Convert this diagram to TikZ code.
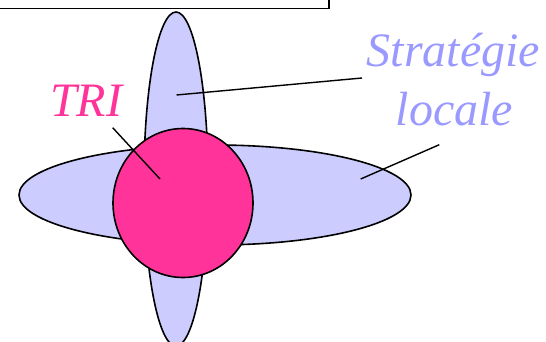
\documentclass[tikz,border=0pt]{standalone}
\usepackage{fontspec}
\setmainfont{Liberation Serif}
\newfontfamily\labelfont{Liberation Serif Italic}
\usetikzlibrary{shapes.geometric}
\definecolor{lav}{HTML}{CCCCFF}
\definecolor{lavtext}{HTML}{9999FF}
\definecolor{pinkc}{HTML}{FF3399}
\tikzset{
  blob/.style={ellipse, draw=black, line width=1.6pt, fill=lav, inner sep=0pt},
  core/.style={ellipse, draw=black, line width=1.6pt, fill=pinkc, inner sep=0pt},
  bigtext/.style={font=\labelfont\fontsize{48}{58}\selectfont, inner sep=0pt, anchor=base},
  leader/.style={draw=black, line width=1.4pt}
}
\begin{document}
\begin{tikzpicture}[x=1pt,y=-1pt]
\useasboundingbox (0,0) rectangle (546,342);
\clip (0,0) rectangle (546,342);
\node[draw=black, line width=1.6pt, minimum width=360pt, minimum height=30pt, inner sep=0pt, anchor=south east] (box) at (330,9.3) {};
\node[blob, minimum width=64pt, minimum height=334pt] (vert) at (176,179) {};
\node[blob, minimum width=392pt, minimum height=100pt] (horiz) at (215,195) {};
\node[core, minimum width=140pt, minimum height=149pt] (tri) at (183,203) {};
\node[bigtext, text=pinkc] (trilabel) at (86,117) {TRI};
\node[bigtext, text=lavtext] (strat) at (453.5,67) {Stratégie};
\node[bigtext, text=lavtext] (locale) at (454.5,125) {locale};
\coordinate (t1) at (112.7,127.7);
\coordinate (t2) at (160,179);
\coordinate (s1) at (362,78);
\coordinate (s2) at (176.5,95);
\coordinate (l1) at (439.3,144.7);
\coordinate (l2) at (360.7,179);
\draw[leader] (t1) -- (t2);
\draw[leader] (s1) -- (s2);
\draw[leader] (l1) -- (l2);
\end{tikzpicture}
\end{document}
